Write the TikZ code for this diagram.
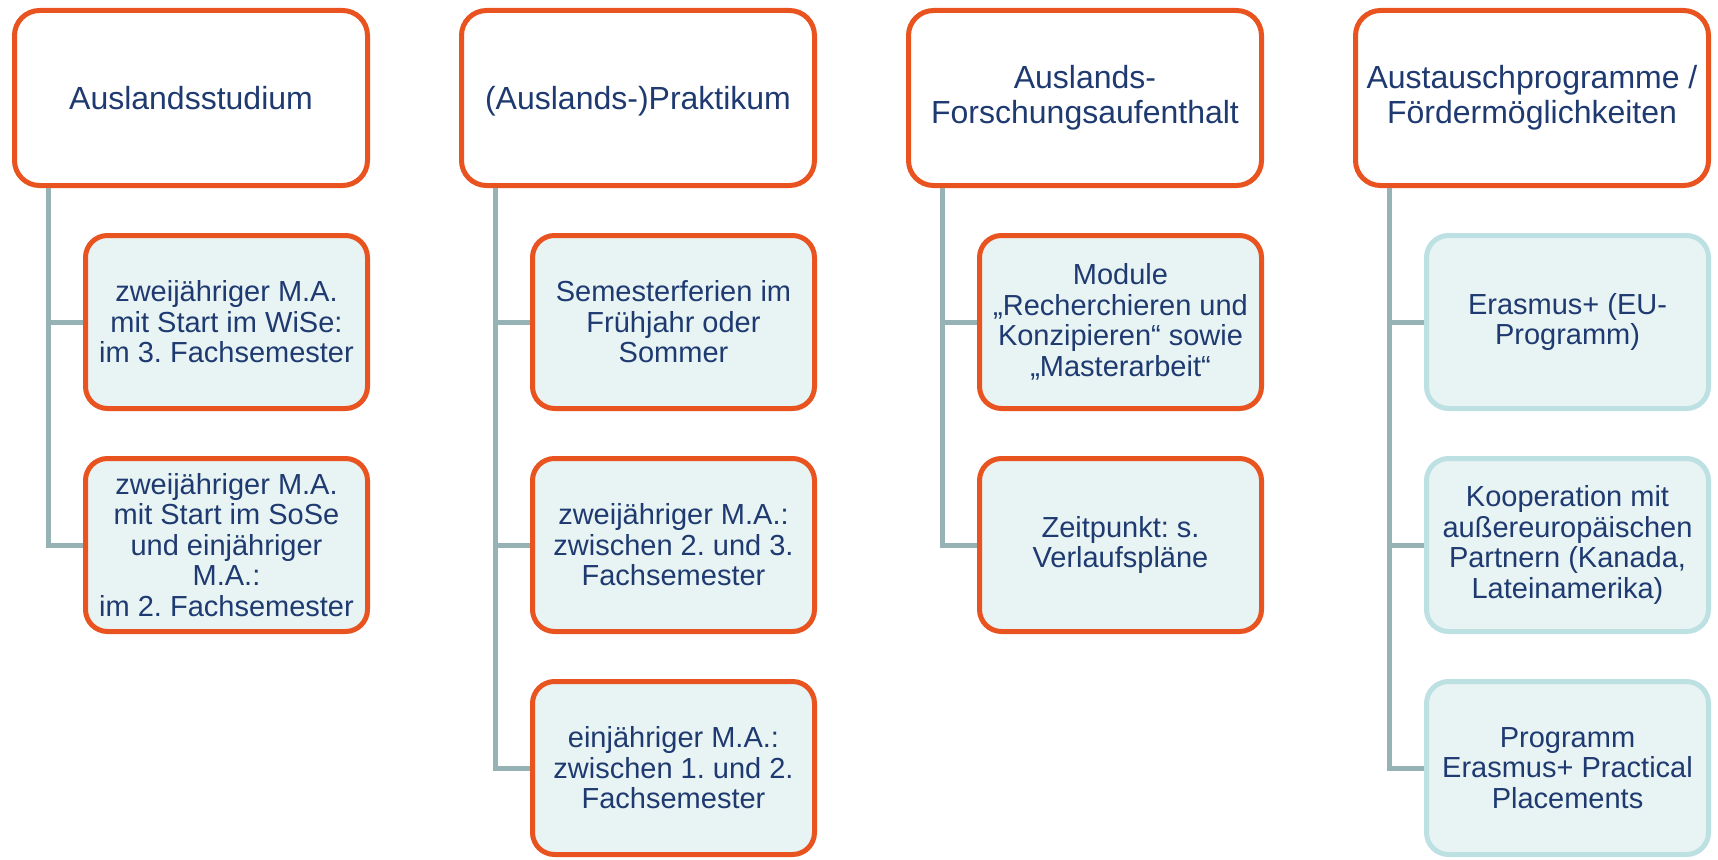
\documentclass[tikz,border=0pt]{standalone}
\usepackage{fontspec}
\setmainfont{Liberation Sans}
\usetikzlibrary{positioning}
\definecolor{boxorange}{HTML}{E8531F}
\definecolor{boxteal}{HTML}{BDE0E3}
\definecolor{boxfill}{HTML}{E8F3F3}
\definecolor{linkgray}{HTML}{96B2B5}
\definecolor{textblue}{HTML}{1E3A70}
\frenchspacing

\begin{document}
\begin{tikzpicture}[x=1pt, y=1pt,
    topbox/.style={draw=boxorange, line width=5pt, rounded corners=25pt, fill=white,
      minimum width=353pt, minimum height=175pt, inner sep=4pt, align=center,
      text=textblue, font=\fontsize{32}{35}\selectfont},
    subbox/.style={draw=boxorange, line width=5pt, rounded corners=22pt, fill=boxfill,
      minimum width=282pt, minimum height=173pt, inner sep=4pt, align=center,
      text=textblue, font=\fontsize{29}{30.5}\selectfont},
    tealbox/.style={subbox, draw=boxteal},
    link/.style={draw=linkgray, line width=5pt}]
  \useasboundingbox (0,0) rectangle (1718,-859);

  % headings
  \node[topbox, anchor=north west] (top1) at (12,-8) {Auslandsstudium};
  \node[topbox, text depth=0pt, right=89pt of top1] (top2) {(Auslands-)Praktikum};
  \node[topbox, right=89pt of top2] (top3) {Auslands-\\Forschungsaufenthalt};
  \node[topbox, right=89pt of top3] (top4) {Austauschprogramme /\\Fördermöglichkeiten};

  % Auslandsstudium
  \node[subbox, below left=45pt and 0pt of top1.south east] (sub11)
    {zweijähriger M.A.\\mit Start im WiSe:\\im 3. Fachsemester};
  \node[subbox, below=45pt of sub11] (sub12)
    {zweijähriger M.A.\\mit Start im SoSe\\und einjähriger\\M.A.:\\im 2. Fachsemester};

  % Praktikum
  \node[subbox, below left=45pt and 0pt of top2.south east] (sub21)
    {Semesterferien im\\Frühjahr oder\\Sommer};
  \node[subbox, below=45pt of sub21] (sub22)
    {zweijähriger M.A.:\\zwischen 2. und 3.\\Fachsemester};
  \node[subbox, below=45pt of sub22] (sub23)
    {einjähriger M.A.:\\zwischen 1. und 2.\\Fachsemester};

  % Forschungsaufenthalt
  \node[subbox, below left=45pt and 0pt of top3.south east] (sub31)
    {Module\\„Recherchieren und\\Konzipieren“ sowie\\„Masterarbeit“};
  \node[subbox, below=45pt of sub31] (sub32)
    {Zeitpunkt: s.\\Verlaufspläne};

  % Programme
  \node[tealbox, below left=45pt and 0pt of top4.south east] (sub41)
    {Erasmus+ (EU-\\Programm)};
  \node[tealbox, below=45pt of sub41] (sub42)
    {Kooperation mit\\außereuropäischen\\Partnern (Kanada,\\Lateinamerika)};
  \node[tealbox, below=45pt of sub42] (sub43)
    {Programm\\Erasmus+ Practical\\Placements};

  % connectors
  \foreach \c/\n in {1/2, 2/3, 3/2, 4/3}
    \foreach \k in {1,...,\n}
      \draw[link] ([xshift=36pt]top\c.south west) |- (sub\c\k.west);
\end{tikzpicture}
\end{document}
